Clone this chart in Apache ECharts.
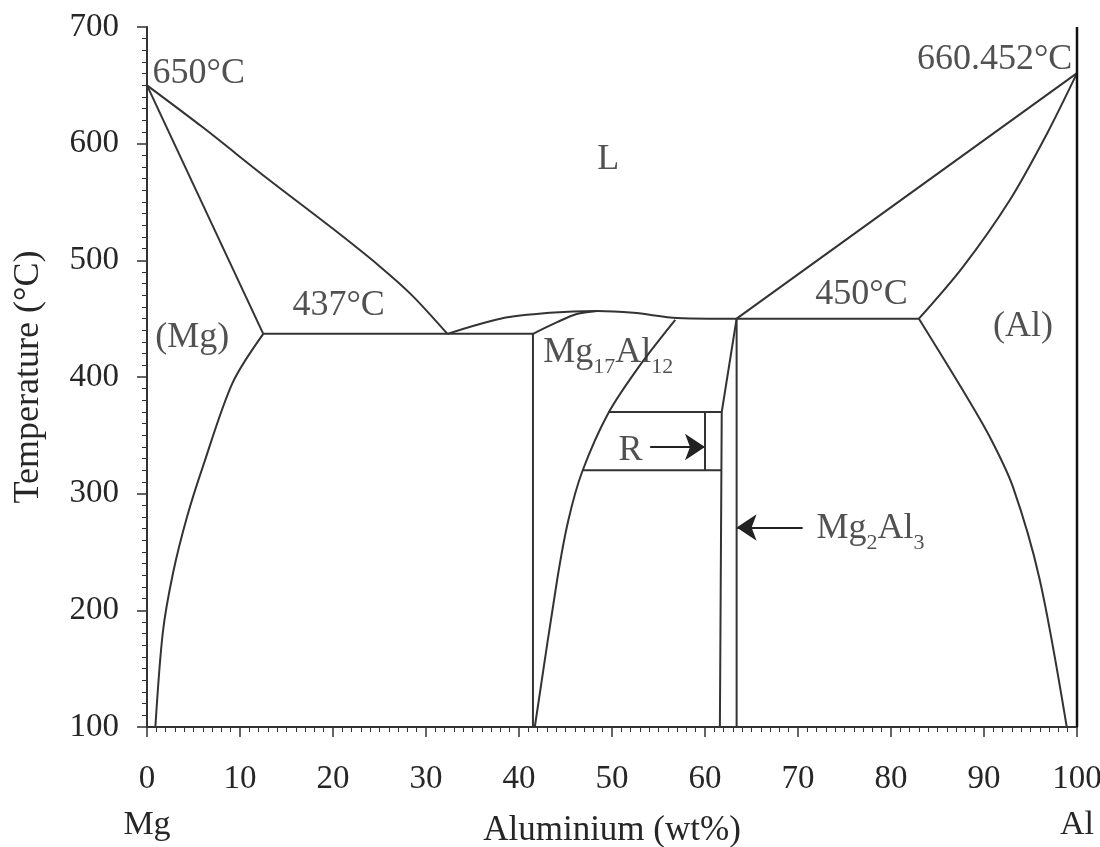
<!DOCTYPE html>
<html>
<head>
<meta charset="utf-8">
<script src="https://cdn.jsdelivr.net/npm/echarts@6/dist/echarts.min.js"></script>
<style>
html,body{margin:0;padding:0;background:#fff;}
#chart{width:1100px;height:847px;}
</style>
</head>
<body>
<div id="chart"></div>
<script>
// ---- Data (wt% Al, temperature °C) ----
const mgLiquidus   = [[0,650],[6,614],[12.8,571],[20,527],[25,495],[28.5,470],[32.3,437]];
const mgSolidus    = [[0,650],[12.5,437]];
const mgSolvus     = [[12.5,437],[9.2,395],[6.0,323],[4.3,280],[2.8,232],[1.7,181],[0.9,100]];
const eutectic437  = [[12.5,437],[41.5,437]];
const gammaLeft    = [[41.5,437],[41.5,100]];
const gammaSolidus = [[41.5,437],[44.1,447],[46.2,454],[48.4,456.6]];
const gammaDome    = [[32.3,437],[38,450],[43.3,455],[48.4,456.6],[52.3,455],[57,450.5],[60.5,450],[63.4,450]];
const gammaRight   = [[56.8,449],[53.0,410],[49.6,369],[46.8,319],[45.3,277],[44.1,226],[41.7,100]];
const gammaRightHi = [[63.4,450],[61.8,370],[61.6,100]];
const rTop         = [[49.6,370],[61.8,370]];
const rBottom      = [[46.8,320],[61.8,320]];
const rRight       = [[60,370],[60,320]];
const beta         = [[63.4,450],[63.4,100]];
const eutectic450  = [[63.4,450],[83,450]];
const alLiquidus   = [[63.4,450],[100,660.452]];
const alSolidus    = [[83,450],[87.7,494],[92.8,552],[96.8,609],[100,660.452]];
const alSolvus     = [[83,450],[87.7,389],[90.6,349],[93.1,306],[96,226],[98.9,100]];
const rightEdge    = [[100,100],[100,700]];

const rArrow       = [[54.1,340],[60,340]];
const betaArrow    = [[70.5,271],[63.4,271]];

const xTickValues  = [0,10,20,30,40,50,60,70,80,90,100];
const yTickValues  = [100,200,300,400,500,600,700];
const endLabels    = {0:'Mg',100:'Al'};

// annotation texts and their anchor points (data space)
const annoText  = ['650°C','660.452°C','L','(Mg)','437°C','450°C','(Al)','Mg{s|17}Al{s|12}','R','Mg{s|2}Al{s|3}'];
const annoPoint = [[0.6,660],[99.5,672],[49.6,586],[0.9,434],[20.6,461],[81.8,471],[94.2,443],[42.6,421],[52.0,337],[72.0,270]];
const annoAlign = ['left','right','center','left','center','right','center','left','center','left'];

// ---- Chart ----
const FONT = 'Liberation Serif';
const INK = '#333';
const TXT = '#262626';
const chart = echarts.init(document.getElementById('chart'));

const curves = [mgLiquidus,mgSolidus,mgSolvus,eutectic437,gammaLeft,gammaSolidus,gammaDome,
  gammaRight,gammaRightHi,rTop,rBottom,rRight,beta,eutectic450,alLiquidus,alSolidus,alSolvus];
const smoothSet = new Set([mgLiquidus,mgSolvus,gammaSolidus,gammaDome,gammaRight,alSolidus,alSolvus]);

const series = curves.map(d => ({
  type:'line', data:d, showSymbol:false, symbol:'none', clip:false,
  smooth: smoothSet.has(d) ? 0.3 : false,
  lineStyle:{color:INK,width:2}, silent:true, animation:false
}));
series.push({type:'line', data:rightEdge, symbol:'none', clip:false,
  lineStyle:{color:'#111',width:2.5}, animation:false});

series.push({
  type:'lines', coordinateSystem:'cartesian2d', animation:false,
  symbol:['none','arrow'], symbolSize:[14,20],
  lineStyle:{color:'#222',width:2,opacity:1},
  data:[{coords:rArrow},{coords:betaArrow}]
});

series.push({
  type:'scatter', symbolSize:0, animation:false, clip:false,
  data: annoPoint.map((p,i)=>({
    value:p,
    label:{show:true, position:'inside', formatter:annoText[i], align:annoAlign[i], verticalAlign:'middle'}
  })),
  label:{
    show:true, fontFamily:FONT, fontSize:36, color:TXT,
    rich:{
      s:{fontFamily:FONT, fontSize:22, color:TXT, lineHeight:22, padding:[22,0,0,0], verticalAlign:'top'}
    }
  }
});

chart.setOption({
  animation:false,
  backgroundColor:'#fff',
  grid:{left:147,right:23,top:27,bottom:120,containLabel:false,outerBoundsMode:'none'},
  xAxis:[{
    type:'value', min:0, max:100, interval:10, position:'bottom',
    name:'Aluminium (wt%)', nameLocation:'middle', nameGap:86,
    nameTextStyle:{fontFamily:FONT,fontSize:35,color:TXT},
    axisLine:{show:true,onZero:false,lineStyle:{color:INK,width:2}},
    axisTick:{show:true,inside:false,length:10,lineStyle:{color:INK,width:1.5}},
    minorTick:{show:true,splitNumber:10,length:5,lineStyle:{color:INK,width:1}},
    splitLine:{show:false},
    axisLabel:{fontFamily:FONT,fontSize:33,color:TXT,margin:36,
      customValues:xTickValues}
  },{
    type:'value', min:0, max:100, interval:100, position:'bottom', offset:81,
    axisLine:{show:false}, axisTick:{show:false}, splitLine:{show:false},
    axisLabel:{fontFamily:FONT,fontSize:34,color:TXT,margin:0,
      formatter:v=>endLabels[v]||''}
  }],
  yAxis:{
    type:'value', min:100, max:700, interval:100,
    name:'Temperature (°C)', nameLocation:'middle', nameGap:100,
    nameTextStyle:{fontFamily:FONT,fontSize:36,color:TXT},
    axisLine:{show:true,onZero:false,lineStyle:{color:INK,width:2}},
    axisTick:{show:true,inside:false,length:10,lineStyle:{color:INK,width:1.5}},
    minorTick:{show:true,splitNumber:10,length:5,lineStyle:{color:INK,width:1}},
    splitLine:{show:false},
    axisLabel:{fontFamily:FONT,fontSize:33,color:TXT,margin:28,
      customValues:yTickValues}
  },
  series:series
});
</script>
</body>
</html>
